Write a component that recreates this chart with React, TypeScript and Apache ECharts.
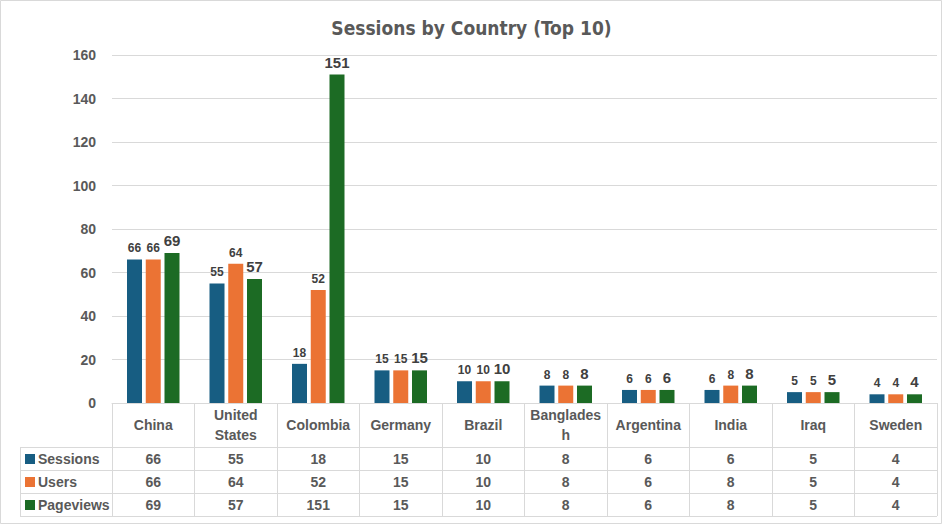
import React, { useEffect, useRef } from "react";
import * as echarts from "echarts";

const categories = ["China", "United States", "Colombia", "Germany", "Brazil", "Bangladesh", "Argentina", "India", "Iraq", "Sweden"];
const categoryLabels = ["China", "United\nStates", "Colombia", "Germany", "Brazil", "Banglades\nh", "Argentina", "India", "Iraq", "Sweden"];
const sessions = [66, 55, 18, 15, 10, 8, 6, 6, 5, 4];
const users = [66, 64, 52, 15, 10, 8, 6, 8, 5, 4];
const pageviews = [69, 57, 151, 15, 10, 8, 6, 8, 5, 4];
const seriesNames = ["Sessions", "Users", "Pageviews"];
const yTicks = [0, 20, 40, 60, 80, 100, 120, 140, 160];

const COLORS = ["#175d82", "#eb7334", "#1c6b24"];
const TEXT = "#595959";
const LINE = "#d9d9d9";
const FONT = '"Liberation Sans", Arial, sans-serif';

export default function App() {
  const ref = useRef<HTMLDivElement>(null);
  useEffect(() => {
    if (!ref.current) return;
    const chart = echarts.init(ref.current, null, { renderer: "svg" });
    const rows = [sessions, users, pageviews];
    const headerH = 44;
    const rowH = 23;
    const option: any = {
      animation: false,
      backgroundColor: "#ffffff",
      title: {
        text: "Sessions by Country (Top 10)",
        left: "center",
        top: 13,
        textStyle: { fontFamily: '"DejaVu Sans Condensed", "Liberation Sans", sans-serif', fontSize: 19, fontWeight: "bold", color: TEXT },
      },
      legend: seriesNames.map((name, k) => ({
        orient: "horizontal",
        left: 25,
        top: 403 + headerH + k * rowH + 5,
        itemWidth: 10,
        itemHeight: 10,
        icon: "rect",
        selectedMode: false,
        padding: 0,
        data: [name],
        textStyle: { fontFamily: FONT, fontSize: 14, fontWeight: "bold", color: TEXT, padding: [0, 0, 0, -2] },
      })),
      grid: { left: 112, right: 6, top: 55, bottom: 122 },
      xAxis: {
        type: "category",
        data: categories,
        axisLine: { lineStyle: { color: LINE } },
        axisTick: { show: true, length: 113, interval: 0, lineStyle: { color: LINE } },
        axisLabel: {
          interval: 0,
          margin: 22,
          verticalAlign: "middle",
          fontFamily: FONT,
          fontSize: 14,
          fontWeight: "bold",
          color: TEXT,
          lineHeight: 20,
          formatter: (_v: string, i: number) => categoryLabels[i],
        },
      },
      yAxis: {
        type: "value",
        min: 0,
        max: yTicks[yTicks.length - 1],
        interval: 20,
        axisLine: { show: false },
        axisTick: { show: false },
        splitLine: { lineStyle: { color: LINE } },
        axisLabel: { margin: 16, fontFamily: FONT, fontSize: 14, fontWeight: "bold", color: TEXT },
      },
      series: seriesNames.map((name, k) => ({
        name,
        type: "bar",
        data: rows[k],
        barWidth: 15,
        barGap: "25%",
        itemStyle: { color: COLORS[k] },
        label: {
          show: true,
          position: "top",
          distance: 5,
          fontFamily: FONT,
          fontWeight: "bold",
          fontSize: k === 2 ? 15 : 12,
          color: "#404040",
        },
      })),
    };
    chart.setOption(option);

    const xs = categories.map((c) => chart.convertToPixel({ xAxisIndex: 0 }, c) as number);
    const band = xs[1] - xs[0];
    const xRight = xs[xs.length - 1] + band / 2;
    const y0 = chart.convertToPixel({ yAxisIndex: 0 }, 0) as number;
    const tableLeft = 20;
    const graphics: any[] = [];
    for (let r = 0; r <= 3; r++) {
      const y = Math.round(y0 + headerH + r * rowH) + 0.5;
      graphics.push({ type: "line", shape: { x1: tableLeft, y1: y, x2: xRight, y2: y }, style: { stroke: LINE, lineWidth: 1 } });
    }
    graphics.push({
      type: "line",
      shape: { x1: tableLeft + 0.5, y1: y0 + headerH, x2: tableLeft + 0.5, y2: y0 + headerH + 3 * rowH },
      style: { stroke: LINE, lineWidth: 1 },
    });
    rows.forEach((vals, r) => {
      vals.forEach((v, i) => {
        graphics.push({
          type: "text",
          x: xs[i],
          y: y0 + headerH + r * rowH + rowH / 2,
          style: { text: String(v), fontFamily: FONT, fontSize: 14, fontWeight: "bold", fill: TEXT, align: "center", verticalAlign: "middle" },
        });
      });
    });
    graphics.push({
      type: "rect",
      shape: { x: 0.5, y: 0.5, width: 941, height: 523 },
      style: { fill: "none", stroke: LINE, lineWidth: 1 },
      silent: true,
    });
    chart.setOption({ graphic: graphics });
    return () => chart.dispose();
  }, []);
  return <div ref={ref} style={{ position: "fixed", left: 0, top: 0, width: 943, height: 525 }} />;
}
